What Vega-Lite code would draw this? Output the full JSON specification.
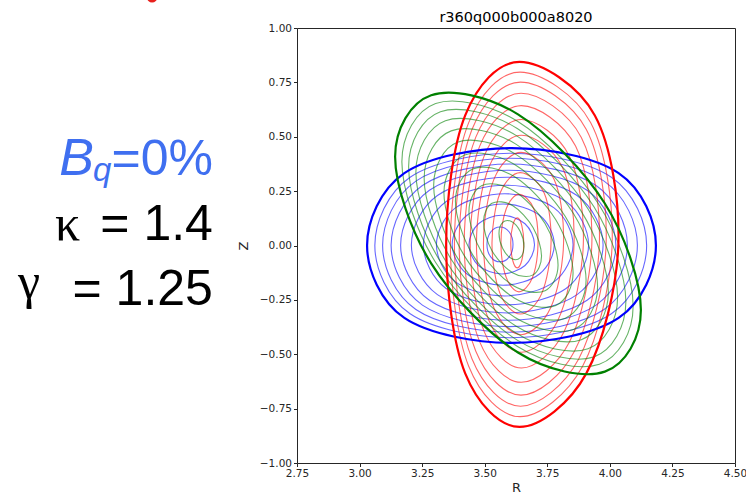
{
"$schema": "https://vega.github.io/schema/vega-lite/v6.json",
"width": 438, "height": 435,
"autosize": {"type": "none"},
"padding": {"left": 297, "top": 28, "right": 11, "bottom": 34},
"background": "white",
"title": {"text": "r360q000b000a8020", "font": "DejaVu Sans", "fontSize": 14.5, "fontWeight": "normal", "color": "#000000", "offset": 5, "dy": 38},
"config": {
  "view": {"stroke": "#262626", "strokeWidth": 1},
  "axis": {"domain": false, "grid": false, "labelFlush": false, "labelFont": "DejaVu Sans", "labelFontSize": 10.5, "labelColor": "#262626", "tickColor": "#262626", "tickSize": 3.5, "titleFont": "DejaVu Sans", "titleFontSize": 13, "titleFontWeight": "normal", "titleColor": "#262626"}
},
"datasets": {
"contours": [
{"f":"b","c":0,"i":0,"R":3.613,"Z":0.005},{"f":"b","c":0,"i":1,"R":3.598,"Z":0.062},{"f":"b","c":0,"i":2,"R":3.561,"Z":0.085},{"f":"b","c":0,"i":3,"R":3.524,"Z":0.062},{"f":"b","c":0,"i":4,"R":3.509,"Z":0.005},{"f":"b","c":0,"i":5,"R":3.524,"Z":-0.052},{"f":"b","c":0,"i":6,"R":3.561,"Z":-0.075},{"f":"b","c":0,"i":7,"R":3.598,"Z":-0.052},
{"f":"b","c":1,"i":0,"R":3.699,"Z":0.004},{"f":"b","c":1,"i":1,"R":3.661,"Z":0.100},{"f":"b","c":1,"i":2,"R":3.568,"Z":0.139},{"f":"b","c":1,"i":3,"R":3.475,"Z":0.100},{"f":"b","c":1,"i":4,"R":3.437,"Z":0.004},{"f":"b","c":1,"i":5,"R":3.475,"Z":-0.092},{"f":"b","c":1,"i":6,"R":3.568,"Z":-0.131},{"f":"b","c":1,"i":7,"R":3.661,"Z":-0.092},
{"f":"b","c":2,"i":0,"R":3.778,"Z":0.004},{"f":"b","c":2,"i":1,"R":3.720,"Z":0.138},{"f":"b","c":2,"i":2,"R":3.574,"Z":0.191},{"f":"b","c":2,"i":3,"R":3.428,"Z":0.138},{"f":"b","c":2,"i":4,"R":3.370,"Z":0.004},{"f":"b","c":2,"i":5,"R":3.428,"Z":-0.130},{"f":"b","c":2,"i":6,"R":3.574,"Z":-0.183},{"f":"b","c":2,"i":7,"R":3.720,"Z":-0.130},
{"f":"b","c":3,"i":0,"R":3.853,"Z":0.003},{"f":"b","c":3,"i":1,"R":3.777,"Z":0.173},{"f":"b","c":3,"i":2,"R":3.580,"Z":0.238},{"f":"b","c":3,"i":3,"R":3.383,"Z":0.173},{"f":"b","c":3,"i":4,"R":3.307,"Z":0.003},{"f":"b","c":3,"i":5,"R":3.383,"Z":-0.167},{"f":"b","c":3,"i":6,"R":3.580,"Z":-0.232},{"f":"b","c":3,"i":7,"R":3.777,"Z":-0.167},
{"f":"b","c":4,"i":0,"R":3.915,"Z":0.002},{"f":"b","c":4,"i":1,"R":3.825,"Z":0.202},{"f":"b","c":4,"i":2,"R":3.585,"Z":0.277},{"f":"b","c":4,"i":3,"R":3.346,"Z":0.202},{"f":"b","c":4,"i":4,"R":3.255,"Z":0.002},{"f":"b","c":4,"i":5,"R":3.346,"Z":-0.198},{"f":"b","c":4,"i":6,"R":3.585,"Z":-0.273},{"f":"b","c":4,"i":7,"R":3.825,"Z":-0.198},
{"f":"b","c":5,"i":0,"R":3.973,"Z":0.002},{"f":"b","c":5,"i":1,"R":3.869,"Z":0.230},{"f":"b","c":5,"i":2,"R":3.590,"Z":0.314},{"f":"b","c":5,"i":3,"R":3.311,"Z":0.230},{"f":"b","c":5,"i":4,"R":3.207,"Z":0.002},{"f":"b","c":5,"i":5,"R":3.311,"Z":-0.226},{"f":"b","c":5,"i":6,"R":3.590,"Z":-0.310},{"f":"b","c":5,"i":7,"R":3.869,"Z":-0.226},
{"f":"b","c":6,"i":0,"R":4.024,"Z":0.001},{"f":"b","c":6,"i":1,"R":3.909,"Z":0.254},{"f":"b","c":6,"i":2,"R":3.594,"Z":0.346},{"f":"b","c":6,"i":3,"R":3.279,"Z":0.254},{"f":"b","c":6,"i":4,"R":3.164,"Z":0.001},{"f":"b","c":6,"i":5,"R":3.279,"Z":-0.252},{"f":"b","c":6,"i":6,"R":3.594,"Z":-0.344},{"f":"b","c":6,"i":7,"R":3.909,"Z":-0.252},
{"f":"b","c":7,"i":0,"R":4.070,"Z":0.001},{"f":"b","c":7,"i":1,"R":3.945,"Z":0.276},{"f":"b","c":7,"i":2,"R":3.598,"Z":0.375},{"f":"b","c":7,"i":3,"R":3.251,"Z":0.276},{"f":"b","c":7,"i":4,"R":3.126,"Z":0.001},{"f":"b","c":7,"i":5,"R":3.251,"Z":-0.274},{"f":"b","c":7,"i":6,"R":3.598,"Z":-0.373},{"f":"b","c":7,"i":7,"R":3.945,"Z":-0.274},
{"f":"b","c":8,"i":0,"R":4.110,"Z":0.001},{"f":"b","c":8,"i":1,"R":3.977,"Z":0.296},{"f":"b","c":8,"i":2,"R":3.601,"Z":0.401},{"f":"b","c":8,"i":3,"R":3.225,"Z":0.296},{"f":"b","c":8,"i":4,"R":3.092,"Z":0.001},{"f":"b","c":8,"i":5,"R":3.225,"Z":-0.294},{"f":"b","c":8,"i":6,"R":3.601,"Z":-0.399},{"f":"b","c":8,"i":7,"R":3.977,"Z":-0.294},
{"f":"b","c":9,"i":0,"R":4.147,"Z":0.000},{"f":"b","c":9,"i":1,"R":4.006,"Z":0.314},{"f":"b","c":9,"i":2,"R":3.604,"Z":0.424},{"f":"b","c":9,"i":3,"R":3.202,"Z":0.314},{"f":"b","c":9,"i":4,"R":3.061,"Z":0.000},{"f":"b","c":9,"i":5,"R":3.202,"Z":-0.314},{"f":"b","c":9,"i":6,"R":3.604,"Z":-0.424},{"f":"b","c":9,"i":7,"R":4.006,"Z":-0.314},
{"f":"b","c":10,"i":0,"R":4.184,"Z":0.000},{"f":"b","c":10,"i":1,"R":4.035,"Z":0.333},{"f":"b","c":10,"i":2,"R":3.607,"Z":0.448},{"f":"b","c":10,"i":3,"R":3.179,"Z":0.333},{"f":"b","c":10,"i":4,"R":3.030,"Z":0.000},{"f":"b","c":10,"i":5,"R":3.179,"Z":-0.333},{"f":"b","c":10,"i":6,"R":3.607,"Z":-0.448},{"f":"b","c":10,"i":7,"R":4.035,"Z":-0.333},

{"f":"r","c":0,"i":0,"R":3.656,"Z":0.012},{"f":"r","c":0,"i":1,"R":3.648,"Z":0.093},{"f":"r","c":0,"i":2,"R":3.630,"Z":0.127},{"f":"r","c":0,"i":3,"R":3.612,"Z":0.093},{"f":"r","c":0,"i":4,"R":3.604,"Z":0.012},{"f":"r","c":0,"i":5,"R":3.612,"Z":-0.069},{"f":"r","c":0,"i":6,"R":3.630,"Z":-0.103},{"f":"r","c":0,"i":7,"R":3.648,"Z":-0.069},
{"f":"r","c":1,"i":0,"R":3.713,"Z":0.011},{"f":"r","c":1,"i":1,"R":3.696,"Z":0.169},{"f":"r","c":1,"i":2,"R":3.637,"Z":0.235},{"f":"r","c":1,"i":3,"R":3.586,"Z":0.169},{"f":"r","c":1,"i":4,"R":3.565,"Z":0.011},{"f":"r","c":1,"i":5,"R":3.586,"Z":-0.147},{"f":"r","c":1,"i":6,"R":3.637,"Z":-0.213},{"f":"r","c":1,"i":7,"R":3.691,"Z":-0.147},
{"f":"r","c":2,"i":0,"R":3.765,"Z":0.010},{"f":"r","c":2,"i":1,"R":3.738,"Z":0.240},{"f":"r","c":2,"i":2,"R":3.642,"Z":0.335},{"f":"r","c":2,"i":3,"R":3.561,"Z":0.240},{"f":"r","c":2,"i":4,"R":3.529,"Z":0.010},{"f":"r","c":2,"i":5,"R":3.561,"Z":-0.220},{"f":"r","c":2,"i":6,"R":3.642,"Z":-0.315},{"f":"r","c":2,"i":7,"R":3.728,"Z":-0.220},
{"f":"r","c":3,"i":0,"R":3.815,"Z":0.009},{"f":"r","c":3,"i":1,"R":3.777,"Z":0.305},{"f":"r","c":3,"i":2,"R":3.645,"Z":0.428},{"f":"r","c":3,"i":3,"R":3.537,"Z":0.305},{"f":"r","c":3,"i":4,"R":3.495,"Z":0.009},{"f":"r","c":3,"i":5,"R":3.537,"Z":-0.287},{"f":"r","c":3,"i":6,"R":3.645,"Z":-0.410},{"f":"r","c":3,"i":7,"R":3.763,"Z":-0.287},
{"f":"r","c":4,"i":0,"R":3.857,"Z":0.008},{"f":"r","c":4,"i":1,"R":3.810,"Z":0.361},{"f":"r","c":4,"i":2,"R":3.647,"Z":0.507},{"f":"r","c":4,"i":3,"R":3.517,"Z":0.361},{"f":"r","c":4,"i":4,"R":3.467,"Z":0.008},{"f":"r","c":4,"i":5,"R":3.517,"Z":-0.345},{"f":"r","c":4,"i":6,"R":3.647,"Z":-0.491},{"f":"r","c":4,"i":7,"R":3.792,"Z":-0.345},
{"f":"r","c":5,"i":0,"R":3.894,"Z":0.008},{"f":"r","c":5,"i":1,"R":3.838,"Z":0.412},{"f":"r","c":5,"i":2,"R":3.647,"Z":0.579},{"f":"r","c":5,"i":3,"R":3.498,"Z":0.412},{"f":"r","c":5,"i":4,"R":3.442,"Z":0.008},{"f":"r","c":5,"i":5,"R":3.498,"Z":-0.396},{"f":"r","c":5,"i":6,"R":3.647,"Z":-0.563},{"f":"r","c":5,"i":7,"R":3.817,"Z":-0.396},
{"f":"r","c":6,"i":0,"R":3.928,"Z":0.007},{"f":"r","c":6,"i":1,"R":3.863,"Z":0.457},{"f":"r","c":6,"i":2,"R":3.646,"Z":0.643},{"f":"r","c":6,"i":3,"R":3.480,"Z":0.457},{"f":"r","c":6,"i":4,"R":3.418,"Z":0.007},{"f":"r","c":6,"i":5,"R":3.480,"Z":-0.443},{"f":"r","c":6,"i":6,"R":3.646,"Z":-0.629},{"f":"r","c":6,"i":7,"R":3.839,"Z":-0.443},
{"f":"r","c":7,"i":0,"R":3.958,"Z":0.006},{"f":"r","c":7,"i":1,"R":3.886,"Z":0.497},{"f":"r","c":7,"i":2,"R":3.645,"Z":0.700},{"f":"r","c":7,"i":3,"R":3.464,"Z":0.497},{"f":"r","c":7,"i":4,"R":3.398,"Z":0.006},{"f":"r","c":7,"i":5,"R":3.464,"Z":-0.485},{"f":"r","c":7,"i":6,"R":3.645,"Z":-0.688},{"f":"r","c":7,"i":7,"R":3.859,"Z":-0.485},
{"f":"r","c":8,"i":0,"R":3.985,"Z":0.006},{"f":"r","c":8,"i":1,"R":3.906,"Z":0.533},{"f":"r","c":8,"i":2,"R":3.643,"Z":0.751},{"f":"r","c":8,"i":3,"R":3.449,"Z":0.533},{"f":"r","c":8,"i":4,"R":3.379,"Z":0.006},{"f":"r","c":8,"i":5,"R":3.449,"Z":-0.521},{"f":"r","c":8,"i":6,"R":3.643,"Z":-0.739},{"f":"r","c":8,"i":7,"R":3.876,"Z":-0.521},
{"f":"r","c":9,"i":0,"R":4.009,"Z":0.005},{"f":"r","c":9,"i":1,"R":3.923,"Z":0.565},{"f":"r","c":9,"i":2,"R":3.641,"Z":0.797},{"f":"r","c":9,"i":3,"R":3.436,"Z":0.565},{"f":"r","c":9,"i":4,"R":3.363,"Z":0.005},{"f":"r","c":9,"i":5,"R":3.436,"Z":-0.555},{"f":"r","c":9,"i":6,"R":3.641,"Z":-0.787},{"f":"r","c":9,"i":7,"R":3.891,"Z":-0.555},
{"f":"r","c":10,"i":0,"R":4.034,"Z":0.005},{"f":"r","c":10,"i":1,"R":3.940,"Z":0.598},{"f":"r","c":10,"i":2,"R":3.639,"Z":0.844},{"f":"r","c":10,"i":3,"R":3.422,"Z":0.598},{"f":"r","c":10,"i":4,"R":3.346,"Z":0.005},{"f":"r","c":10,"i":5,"R":3.422,"Z":-0.588},{"f":"r","c":10,"i":6,"R":3.639,"Z":-0.834},{"f":"r","c":10,"i":7,"R":3.906,"Z":-0.588},

{"f":"g","c":0,"i":0,"R":3.657,"Z":-0.005},{"f":"g","c":0,"i":1,"R":3.642,"Z":0.064},{"f":"g","c":0,"i":2,"R":3.607,"Z":0.110},{"f":"g","c":0,"i":3,"R":3.572,"Z":0.106},{"f":"g","c":0,"i":4,"R":3.557,"Z":0.055},{"f":"g","c":0,"i":5,"R":3.572,"Z":-0.014},{"f":"g","c":0,"i":6,"R":3.607,"Z":-0.060},{"f":"g","c":0,"i":7,"R":3.642,"Z":-0.056},
{"f":"g","c":1,"i":0,"R":3.727,"Z":-0.049},{"f":"g","c":1,"i":1,"R":3.693,"Z":0.083},{"f":"g","c":1,"i":2,"R":3.611,"Z":0.184},{"f":"g","c":1,"i":3,"R":3.529,"Z":0.194},{"f":"g","c":1,"i":4,"R":3.495,"Z":0.108},{"f":"g","c":1,"i":5,"R":3.529,"Z":-0.024},{"f":"g","c":1,"i":6,"R":3.611,"Z":-0.125},{"f":"g","c":1,"i":7,"R":3.693,"Z":-0.135},
{"f":"g","c":2,"i":0,"R":3.793,"Z":-0.090},{"f":"g","c":2,"i":1,"R":3.741,"Z":0.101},{"f":"g","c":2,"i":2,"R":3.615,"Z":0.253},{"f":"g","c":2,"i":3,"R":3.489,"Z":0.276},{"f":"g","c":2,"i":4,"R":3.437,"Z":0.157},{"f":"g","c":2,"i":5,"R":3.489,"Z":-0.034},{"f":"g","c":2,"i":6,"R":3.615,"Z":-0.185},{"f":"g","c":2,"i":7,"R":3.741,"Z":-0.208},
{"f":"g","c":3,"i":0,"R":3.853,"Z":-0.127},{"f":"g","c":3,"i":1,"R":3.784,"Z":0.118},{"f":"g","c":3,"i":2,"R":3.618,"Z":0.317},{"f":"g","c":3,"i":3,"R":3.452,"Z":0.352},{"f":"g","c":3,"i":4,"R":3.383,"Z":0.203},{"f":"g","c":3,"i":5,"R":3.452,"Z":-0.043},{"f":"g","c":3,"i":6,"R":3.618,"Z":-0.241},{"f":"g","c":3,"i":7,"R":3.784,"Z":-0.276},
{"f":"g","c":4,"i":0,"R":3.905,"Z":-0.160},{"f":"g","c":4,"i":1,"R":3.822,"Z":0.133},{"f":"g","c":4,"i":2,"R":3.621,"Z":0.371},{"f":"g","c":4,"i":3,"R":3.420,"Z":0.416},{"f":"g","c":4,"i":4,"R":3.337,"Z":0.242},{"f":"g","c":4,"i":5,"R":3.420,"Z":-0.050},{"f":"g","c":4,"i":6,"R":3.621,"Z":-0.289},{"f":"g","c":4,"i":7,"R":3.822,"Z":-0.334},
{"f":"g","c":5,"i":0,"R":3.951,"Z":-0.189},{"f":"g","c":5,"i":1,"R":3.855,"Z":0.146},{"f":"g","c":5,"i":2,"R":3.623,"Z":0.420},{"f":"g","c":5,"i":3,"R":3.391,"Z":0.475},{"f":"g","c":5,"i":4,"R":3.296,"Z":0.277},{"f":"g","c":5,"i":5,"R":3.391,"Z":-0.057},{"f":"g","c":5,"i":6,"R":3.623,"Z":-0.332},{"f":"g","c":5,"i":7,"R":3.855,"Z":-0.386},
{"f":"g","c":6,"i":0,"R":3.994,"Z":-0.215},{"f":"g","c":6,"i":1,"R":3.886,"Z":0.157},{"f":"g","c":6,"i":2,"R":3.626,"Z":0.465},{"f":"g","c":6,"i":3,"R":3.366,"Z":0.527},{"f":"g","c":6,"i":4,"R":3.258,"Z":0.309},{"f":"g","c":6,"i":5,"R":3.366,"Z":-0.063},{"f":"g","c":6,"i":6,"R":3.626,"Z":-0.371},{"f":"g","c":6,"i":7,"R":3.886,"Z":-0.433},
{"f":"g","c":7,"i":0,"R":4.031,"Z":-0.238},{"f":"g","c":7,"i":1,"R":3.913,"Z":0.168},{"f":"g","c":7,"i":2,"R":3.628,"Z":0.504},{"f":"g","c":7,"i":3,"R":3.343,"Z":0.574},{"f":"g","c":7,"i":4,"R":3.225,"Z":0.337},{"f":"g","c":7,"i":5,"R":3.343,"Z":-0.069},{"f":"g","c":7,"i":6,"R":3.628,"Z":-0.405},{"f":"g","c":7,"i":7,"R":3.913,"Z":-0.475},
{"f":"g","c":8,"i":0,"R":4.064,"Z":-0.259},{"f":"g","c":8,"i":1,"R":3.937,"Z":0.177},{"f":"g","c":8,"i":2,"R":3.630,"Z":0.538},{"f":"g","c":8,"i":3,"R":3.323,"Z":0.615},{"f":"g","c":8,"i":4,"R":3.196,"Z":0.362},{"f":"g","c":8,"i":5,"R":3.323,"Z":-0.074},{"f":"g","c":8,"i":6,"R":3.630,"Z":-0.435},{"f":"g","c":8,"i":7,"R":3.937,"Z":-0.512},
{"f":"g","c":9,"i":0,"R":4.093,"Z":-0.278},{"f":"g","c":9,"i":1,"R":3.958,"Z":0.185},{"f":"g","c":9,"i":2,"R":3.631,"Z":0.571},{"f":"g","c":9,"i":3,"R":3.304,"Z":0.653},{"f":"g","c":9,"i":4,"R":3.169,"Z":0.385},{"f":"g","c":9,"i":5,"R":3.304,"Z":-0.078},{"f":"g","c":9,"i":6,"R":3.631,"Z":-0.464},{"f":"g","c":9,"i":7,"R":3.958,"Z":-0.546},
{"f":"g","c":10,"i":0,"R":4.124,"Z":-0.297},{"f":"g","c":10,"i":1,"R":3.980,"Z":0.193},{"f":"g","c":10,"i":2,"R":3.633,"Z":0.603},{"f":"g","c":10,"i":3,"R":3.286,"Z":0.691},{"f":"g","c":10,"i":4,"R":3.142,"Z":0.408},{"f":"g","c":10,"i":5,"R":3.286,"Z":-0.082},{"f":"g","c":10,"i":6,"R":3.633,"Z":-0.492},{"f":"g","c":10,"i":7,"R":3.980,"Z":-0.580}
]
},
"encoding": {
  "x": {"field": "R", "type": "quantitative", "scale": {"domain": [2.75, 4.5], "nice": false, "zero": false}, "axis": {"title": "R", "values": [2.75, 3.0, 3.25, 3.5, 3.75, 4.0, 4.25, 4.5], "format": ".2f", "labelPadding": 2, "titlePadding": 2}},
  "y": {"field": "Z", "type": "quantitative", "scale": {"domain": [-1, 1], "nice": false, "zero": false}, "axis": {"title": "Z", "values": [-1, -0.75, -0.5, -0.25, 0, 0.25, 0.5, 0.75, 1], "format": ".2f", "labelPadding": 2, "titlePadding": 9}}
},
"layer": [
  {"data": {"name": "contours"}, "transform": [{"filter": "datum.c < 10"}],
   "mark": {"type": "line", "interpolate": "cardinal-closed", "strokeWidth": 1.1, "opacity": 0.6},
   "encoding": {"color": {"field": "f", "type": "nominal", "scale": {"domain": ["b", "r", "g"], "range": ["#0000ff", "#ff0000", "#008000"]}, "legend": null}, "detail": {"field": "c", "type": "nominal"}, "order": {"field": "i", "type": "quantitative"}}},
  {"data": {"name": "contours"}, "transform": [{"filter": "datum.c == 10"}],
   "mark": {"type": "line", "interpolate": "cardinal-closed", "strokeWidth": 2.2, "opacity": 1},
   "encoding": {"color": {"field": "f", "type": "nominal", "scale": {"domain": ["b", "r", "g"], "range": ["#0000ff", "#ff0000", "#008000"]}, "legend": null}, "detail": {"field": "c", "type": "nominal"}, "order": {"field": "i", "type": "quantitative"}}},
  {"data": {"values": [{"t": "=0%", "R": 2.414, "Z": 0.324}]},
   "mark": {"type": "text", "align": "right", "baseline": "alphabetic", "font": "Liberation Sans", "fontSize": 50, "color": "#3f6ff0"},
   "encoding": {"text": {"field": "t", "type": "nominal"}}},
  {"data": {"values": [{"t": "B", "R": 1.939, "Z": 0.324}]},
   "mark": {"type": "text", "align": "right", "baseline": "alphabetic", "font": "Liberation Sans", "fontStyle": "italic", "fontSize": 52, "color": "#3f6ff0"},
   "encoding": {"text": {"field": "t", "type": "nominal"}}},
  {"data": {"values": [{"t": "q", "R": 1.935, "Z": 0.297}]},
   "mark": {"type": "text", "align": "left", "baseline": "alphabetic", "font": "Liberation Sans", "fontStyle": "italic", "fontSize": 33, "color": "#3f6ff0"},
   "encoding": {"text": {"field": "t", "type": "nominal"}}},
  {"data": {"values": [{"t": "κ", "R": 1.833, "Z": 0.025}, {"t": "γ", "R": 1.679, "Z": -0.241}]},
   "mark": {"type": "text", "align": "center", "baseline": "alphabetic", "font": "Liberation Serif", "fontSize": 50, "color": "#000000"},
   "encoding": {"text": {"field": "t", "type": "nominal"}}},
  {"data": {"values": [{"t": "= 1.4", "R": 2.414, "Z": 0.025}, {"t": "= 1.25", "R": 2.414, "Z": -0.274}]},
   "mark": {"type": "text", "align": "right", "baseline": "alphabetic", "font": "Liberation Sans", "fontSize": 50, "color": "#000000"},
   "encoding": {"text": {"field": "t", "type": "nominal"}}},
  {"data": {"values": [{"R": 2.171, "Z": 1.141}]},
   "mark": {"type": "point", "filled": true, "color": "#e8201c", "size": 110, "opacity": 1}}
]
}
